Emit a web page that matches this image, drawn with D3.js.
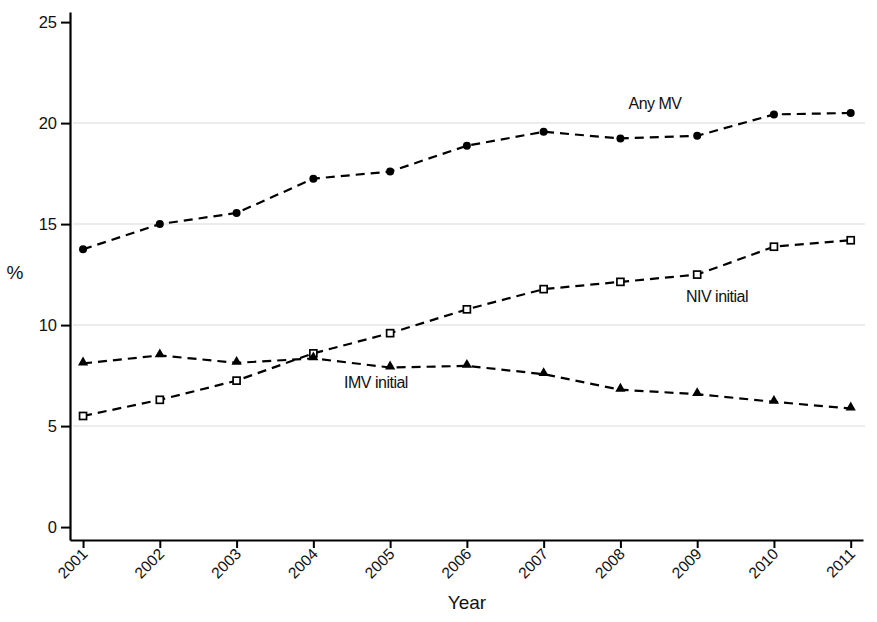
<!DOCTYPE html>
<html lang="en">
  <head>
    <meta charset="utf-8">
    <title>Mechanical ventilation by year</title>
    <script src="https://d3js.org/d3.v7.js"></script>
    <style>
    body {margin: 0; background: white;}
    text {font-family: "Liberation Sans", Arial, sans-serif; fill: #111;}
    .grid line {stroke: #e6e6e6; stroke-width: 1.5;}
    .series {fill: none; stroke: #000; stroke-width: 2.2; stroke-dasharray: 9,6;}
    </style>
  </head>
  <body>
  <script>

  var years = [2001, 2002, 2003, 2004, 2005, 2006, 2007, 2008, 2009, 2010, 2011];
  var anyMV = [13.75, 15.0, 15.55, 17.25, 17.6, 18.88, 19.57, 19.24, 19.37, 20.43, 20.5];
  var nivInitial = [5.5, 6.3, 7.25, 8.6, 9.6, 10.78, 11.78, 12.14, 12.5, 13.88, 14.2];
  var imvInitial = [8.1, 8.5, 8.13, 8.35, 7.9, 7.98, 7.57, 6.8, 6.58, 6.2, 5.87];
  var yTicks = [0, 5, 10, 15, 20, 25];
  var gridTicks = [5, 10, 15, 20];

  var w = 877;
  var h = 622;

  var svg = d3.select("body")
      .append("svg")
      .attr("width", w)
      .attr("height", h);

  var xScale = d3.scaleLinear()
      .domain([2000.83, 2011.16])
      .range([70, 863]);

  var yScale = d3.scaleLinear()
      .domain([-0.64, 25.5])
      .range([540, 12]);

  // grid lines
  svg.append("g")
      .attr("class", "grid")
      .selectAll("line")
      .data(gridTicks)
      .join("line")
      .attr("x1", 73)
      .attr("x2", 865)
      .attr("y1", d => yScale(d))
      .attr("y2", d => yScale(d));

  // y axis
  var yAxis = d3.axisLeft(yScale)
      .tickValues(yTicks)
      .tickSize(9)
      .tickPadding(4)
      .tickSizeOuter(0);
  var gy = svg.append("g")
      .attr("transform", "translate(70,0)")
      .call(yAxis);
  gy.select(".domain").attr("stroke-width", 2.2);
  gy.selectAll(".tick line").attr("stroke-width", 2);
  gy.selectAll(".tick text")
      .style("font-size", "16.5px")
      .attr("font-family", "Liberation Sans, Arial, sans-serif")
      .attr("fill", "#000");

  // x axis
  var xAxis = d3.axisBottom(xScale)
      .tickValues(years)
      .tickFormat(d3.format("d"))
      .tickSize(8)
      .tickSizeOuter(0);
  var gx = svg.append("g")
      .attr("transform", "translate(0,540)")
      .call(xAxis);
  gx.select(".domain").attr("stroke-width", 2.2);
  gx.selectAll(".tick line").attr("stroke-width", 2);
  gx.selectAll(".tick text")
      .style("font-size", "15.5px")
      .attr("font-family", "Liberation Sans, Arial, sans-serif")
      .attr("fill", "#000")
      .attr("text-anchor", "end")
      .attr("dy", null)
      .attr("y", 0)
      .attr("transform", "translate(5,15) rotate(-45)");

  // axis titles
  svg.append("text")
      .attr("x", 467)
      .attr("y", 609)
      .attr("text-anchor", "middle")
      .style("font-size", "19px")
      .text("Year");

  svg.append("text")
      .attr("x", 15)
      .attr("y", 279)
      .attr("text-anchor", "middle")
      .style("font-size", "19px")
      .text("%");

  var line = d3.line()
      .x((d, i) => xScale(years[i]))
      .y(d => yScale(d));

  [anyMV, nivInitial, imvInitial].forEach(function(s) {
    svg.append("path")
        .datum(s)
        .attr("class", "series")
        .attr("d", line);
  });

  // Any MV markers: filled circles
  svg.selectAll(".dotAny")
      .data(anyMV)
      .join("circle")
      .attr("class", "dotAny")
      .attr("cx", (d, i) => xScale(years[i]))
      .attr("cy", d => yScale(d))
      .attr("r", 4)
      .attr("fill", "#000");

  // NIV initial markers: hollow squares
  svg.selectAll(".sqNiv")
      .data(nivInitial)
      .join("rect")
      .attr("class", "sqNiv")
      .attr("x", (d, i) => xScale(years[i]) - 3.5)
      .attr("y", d => yScale(d) - 3.5)
      .attr("width", 7)
      .attr("height", 7)
      .attr("fill", "white")
      .attr("stroke", "#000")
      .attr("stroke-width", 1.7);

  // IMV initial markers: filled triangles
  var tri = d3.symbol().type(d3.symbolTriangle).size(45);
  svg.selectAll(".triImv")
      .data(imvInitial)
      .join("path")
      .attr("class", "triImv")
      .attr("d", tri)
      .attr("transform", (d, i) => "translate(" + xScale(years[i]) + "," + (yScale(d) - 1) + ")")
      .attr("fill", "#000");

  // series labels
  var labels = [
    {text: "Any MV", x: 655, y: 109},
    {text: "NIV initial", x: 717, y: 302},
    {text: "IMV initial", x: 376, y: 388}
  ];
  svg.selectAll(".series-label")
      .data(labels)
      .join("text")
      .attr("class", "series-label")
      .attr("x", d => d.x)
      .attr("y", d => d.y)
      .attr("text-anchor", "middle")
      .style("font-size", "16px")
      .style("letter-spacing", "-0.5px")
      .text(d => d.text);

  </script>
  </body>
</html>
